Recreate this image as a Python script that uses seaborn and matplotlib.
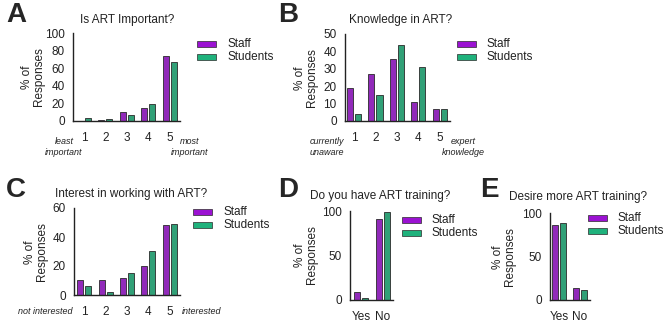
import seaborn as sns
import matplotlib.pyplot as plt
import pandas as pd

# Survey values (% of responses)
groups = ['Staff', 'Students']
colors = {'Staff': '#9B12D2', 'Students': '#1FB27C'}

scale_cats = ['1', '2', '3', '4', '5']
yesno_cats = ['Yes', 'No']

important_staff = [0, 0.8, 9.8, 15, 73.5]
important_students = [3.8, 1.9, 6.8, 19.7, 66.7]

knowledge_staff = [18.8, 26.9, 35.6, 11, 7]
knowledge_students = [4.2, 15, 43.9, 30.9, 7]

interest_staff = [10.3, 10.3, 11.9, 20.2, 48]
interest_students = [6.2, 2, 15.1, 30.2, 48.8]

training_staff = [9.2, 91.2]
training_students = [1.9, 98.5]

desire_staff = [85.8, 13.8]
desire_students = [88.8, 11.2]

W, H = 669, 331


def to_frame(cats, staff, students):
    return pd.DataFrame({
        'cat': cats * 2,
        'group': ['Staff'] * len(cats) + ['Students'] * len(cats),
        'value': staff + students,
    })


def px_axes(fig, left, right, top, bottom):
    return fig.add_axes([left / W, 1 - bottom / H, (right - left) / W, (bottom - top) / H])


def fig_text(fig, x, y, s, **kw):
    fig.text(x / W, 1 - y / H, s, **kw)


def draw_panel(fig, box, cats, staff, students, xlim, ylim, yticks,
               letter, letter_xy, title, title_xy, ylab_xy, legend_xy):
    ax = px_axes(fig, *box)
    data = to_frame(cats, staff, students)
    sns.barplot(data=data, x='cat', y='value', hue='group', palette=colors,
                width=0.75, gap=0.25, edgecolor='#2a2a2a', linewidth=0.6,
                legend=False, ax=ax)
    ax.set_xlim(*xlim)
    ax.set_ylim(*ylim)
    ax.set_yticks(yticks)
    ax.set_xlabel('')
    ax.set_ylabel('')
    sns.despine(ax=ax)
    for s in ['left', 'bottom']:
        ax.spines[s].set_linewidth(1.0)
        ax.spines[s].set_color('#222222')
    ax.tick_params(axis='both', length=4, width=1.0, color='#222222',
                   labelsize=8.5, pad=2, labelcolor='#222222')
    ax.tick_params(axis='x', pad=4)

    fig_text(fig, *letter_xy, letter, fontsize=20, fontweight='bold',
             ha='center', va='center')
    fig_text(fig, *title_xy, title, fontsize=8.5, ha='center', va='center',
             color='#222222')
    fig_text(fig, *ylab_xy, '% of\nResponses', fontsize=8.5, rotation=90,
             ha='center', va='center', multialignment='center',
             linespacing=1.0, color='#222222')

    # legend drawn as a small key next to the axes
    lx, ly = legend_xy
    for i, g in enumerate(groups):
        y = ly + i * 13
        fig.patches.append(plt.Rectangle((lx / W, 1 - (y + 2.8) / H), 19 / W, 5.6 / H,
                                         transform=fig.transFigure,
                                         facecolor=colors[g], edgecolor='#2a2a2a',
                                         linewidth=0.5))
        fig_text(fig, lx + 30, y, g, fontsize=8.5, ha='left', va='center',
                 color='#222222')
    return ax


sns.set_style('white')
plt.rcParams['font.family'] = ['Liberation Sans', 'DejaVu Sans']

fig = plt.figure(figsize=(W / 100, H / 100), dpi=100)

note = dict(fontsize=6.5, style='italic', ha='center', va='center',
            linespacing=1.35, color='#222222')

# A
draw_panel(fig, (73, 180, 33, 121), scale_cats, important_staff, important_students,
           (-0.51, 4.47), (0, 100), [0, 20, 40, 60, 80, 100],
           'A', (16, 15), 'Is ART Important?', (127, 20), (33, 77), (197, 44))
fig_text(fig, 64, 147, 'least\nimportant', **note)
fig_text(fig, 190, 147, 'most\nimportant', **note)

# B
draw_panel(fig, (345, 450, 34, 121), scale_cats, knowledge_staff, knowledge_students,
           (-0.42, 4.47), (0, 50), [0, 10, 20, 30, 40, 50],
           'B', (288, 15), 'Knowledge in ART?', (401, 20), (306, 78), (457, 44))
fig_text(fig, 327, 147, 'currently\nunaware', **note)
fig_text(fig, 463, 147, 'expert\nknowledge', **note)

# C
draw_panel(fig, (74, 180, 208, 295), scale_cats, interest_staff, interest_students,
           (-0.47, 4.47), (0, 60), [0, 20, 40, 60],
           'C', (16, 190), 'Interest in working with ART?', (131, 194), (36, 252), (193, 212))
fig_text(fig, 45, 312, 'not interested', **note)
fig_text(fig, 202, 312, 'interested', **note)

# D
draw_panel(fig, (350, 393, 211, 300), yesno_cats, training_staff, training_students,
           (-0.5, 1.45), (0, 100), [0, 50, 100],
           'D', (288, 190), 'Do you have ART training?', (380, 196), (306, 255), (402, 220))

# E
draw_panel(fig, (550, 590, 213, 300), yesno_cats, desire_staff, desire_students,
           (-0.42, 1.48), (0, 100), [0, 50, 100],
           'E', (489, 190), 'Desire more ART training?', (578, 197), (504, 257), (588, 218))

fig.savefig('out.png', dpi=100)
